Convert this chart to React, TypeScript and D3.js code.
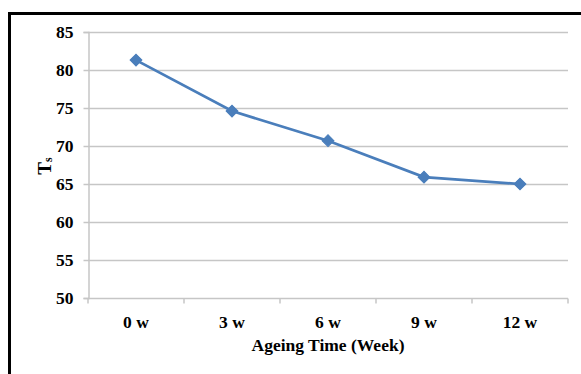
import { useEffect, useRef } from 'react'
import * as d3 from 'd3'

const categories = ['0 w', '3 w', '6 w', '9 w', '12 w']
const tsValues = [81.3, 74.6, 70.7, 65.9, 65.0]
const yTicks = [50, 55, 60, 65, 70, 75, 80, 85]

const W = 581
const H = 374
const font = 'Liberation Serif'
const lineColor = '#4a7ebb'
const gridColor = '#c6c6c6'

export default function App() {
  const ref = useRef<SVGSVGElement>(null)

  useEffect(() => {
    if (!ref.current) return
    const margin = { top: 32, right: 13, bottom: 76, left: 88 }
    const inner = { w: W - margin.left - margin.right, h: H - margin.top - margin.bottom }

    d3.select(ref.current).selectAll('*').remove()
    const svg = d3.select(ref.current).attr('width', W).attr('height', H)

    svg.append('rect').attr('width', W).attr('height', H).attr('fill', '#fff')

    // outer frame (clipped at right/bottom)
    svg.append('path')
      .attr('d', `M9.5,${H + 5} V13.5 H${W + 5}`)
      .attr('fill', 'none')
      .attr('stroke', '#000')
      .attr('stroke-width', 3)

    const g = svg.append('g').attr('transform', `translate(${margin.left},${margin.top})`)

    const x = d3.scaleBand().domain(categories).range([0, inner.w])
    const y = d3.scaleLinear().domain([50, 85]).range([inner.h, 0])

    // grid
    g.append('g')
      .selectAll('line')
      .data(yTicks.slice(1))
      .join('line')
      .attr('x1', 0)
      .attr('x2', inner.w)
      .attr('y1', (d) => Math.round(y(d)) + 0.5)
      .attr('y2', (d) => Math.round(y(d)) + 0.5)
      .attr('stroke', gridColor)
      .attr('stroke-width', 1.5)

    // Y axis
    g.append('g')
      .attr('transform', 'translate(0.5,0)')
      .call(d3.axisLeft(y).tickValues(yTicks).tickSize(5).tickPadding(10).tickFormat((v) => `${v}`))
      .call((sel) => sel.select('.domain').attr('stroke', gridColor).attr('stroke-width', 1.5))
      .call((sel) => sel.selectAll('line').attr('stroke', gridColor).attr('stroke-width', 1.5))
      .call((sel) =>
        sel.selectAll('text')
          .attr('font-family', font)
          .attr('font-size', 17.5)
          .attr('font-weight', 'bold')
          .attr('fill', '#000')
      )

    // X axis
    const xAxis = g.append('g').attr('transform', `translate(0,${Math.round(inner.h) + 0.5})`)
    xAxis.append('line')
      .attr('x1', 0).attr('x2', inner.w)
      .attr('stroke', gridColor).attr('stroke-width', 1.5)
    xAxis.selectAll('.xtick')
      .data(d3.range(categories.length + 1))
      .join('line')
      .attr('class', 'xtick')
      .attr('x1', (i) => i * x.step())
      .attr('x2', (i) => i * x.step())
      .attr('y1', 0)
      .attr('y2', 5)
      .attr('stroke', gridColor)
      .attr('stroke-width', 1.5)
    xAxis.selectAll('.xlabel')
      .data(categories)
      .join('text')
      .attr('class', 'xlabel')
      .attr('x', (d) => x(d)! + x.bandwidth() / 2)
      .attr('y', 29)
      .attr('text-anchor', 'middle')
      .attr('font-family', font)
      .attr('font-size', 17.5)
      .attr('font-weight', 'bold')
      .text((d) => d)

    // line
    const line = d3.line<number>()
      .x((_, i) => x(categories[i])! + x.bandwidth() / 2)
      .y((d) => y(d))
    g.append('path')
      .datum(tsValues)
      .attr('d', line)
      .attr('fill', 'none')
      .attr('stroke', lineColor)
      .attr('stroke-width', 2.75)

    g.selectAll('.marker')
      .data(tsValues)
      .join('path')
      .attr('class', 'marker')
      .attr('d', d3.symbol(d3.symbolSquare, 70)())
      .attr('transform', (d, i) => `translate(${x(categories[i])! + x.bandwidth() / 2},${y(d)}) rotate(45)`)
      .attr('fill', lineColor)
      .attr('stroke', lineColor)
      .attr('stroke-width', 1)

    // axis titles
    svg.append('text')
      .attr('x', margin.left + inner.w / 2)
      .attr('y', 351)
      .attr('text-anchor', 'middle')
      .attr('font-family', font)
      .attr('font-size', 17.5)
      .attr('font-weight', 'bold')
      .text('Ageing Time (Week)')

    const yt = svg.append('text')
      .attr('transform', 'translate(51,166) rotate(-90)')
      .attr('text-anchor', 'middle')
      .attr('font-family', font)
      .attr('font-size', 19)
      .attr('font-weight', 'bold')
    yt.append('tspan').text('T')
    yt.append('tspan').attr('font-size', 12).attr('dy', 1).text('s')
  }, [])

  return (
    <svg ref={ref} style={{ position: 'absolute', left: 0, top: 0, display: 'block' }} />
  )
}
